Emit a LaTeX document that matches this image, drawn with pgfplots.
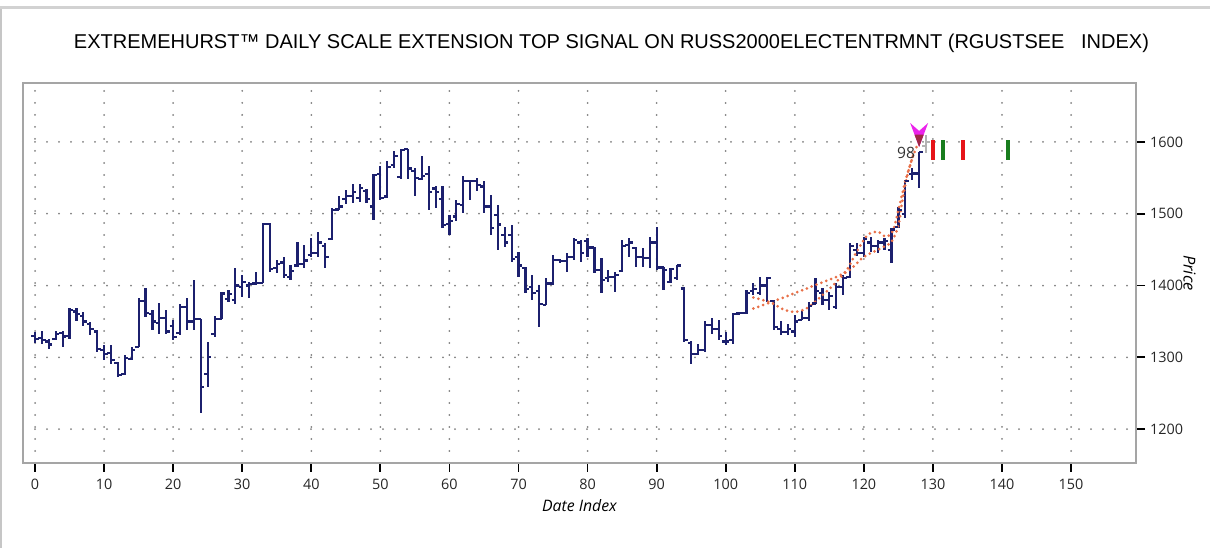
\documentclass[border=0pt]{standalone}
\usepackage{pgfplots}
\pgfplotsset{compat=1.18}
\usepackage{pgfplotstable}
\usepackage{fontspec}
\setmainfont{Liberation Sans}
\newfontfamily\uifont{Open Sans}

\definecolor{barblue}{RGB}{28,32,110}
\definecolor{fitorange}{RGB}{232,112,72}
\definecolor{sigred}{RGB}{230,20,25}
\definecolor{siggreen}{RGB}{25,125,30}
\definecolor{framegray}{RGB}{165,165,165}
\definecolor{arrowmag}{RGB}{235,35,235}
\definecolor{arrowdark}{RGB}{160,40,70}

% open / close ticks of the OHLC bars
\pgfdeclareplotmark{barleft}{\pgfpathmoveto{\pgfqpoint{-1.8pt}{0pt}}\pgfpathlineto{\pgfqpoint{0pt}{0pt}}\pgfusepathqstroke}
\pgfdeclareplotmark{barright}{\pgfpathmoveto{\pgfqpoint{0pt}{0pt}}\pgfpathlineto{\pgfqpoint{1.8pt}{0pt}}\pgfusepathqstroke}

% signal arrow, tip at the data point
\pgfdeclareplotmark{toparrow}{%
  \pgfsetfillcolor{arrowmag}%
  \pgfpathmoveto{\pgfqpoint{0pt}{0pt}}%
  \pgfpathlineto{\pgfqpoint{-4.5pt}{12pt}}%
  \pgfpathlineto{\pgfqpoint{0pt}{8pt}}%
  \pgfpathlineto{\pgfqpoint{4.5pt}{12pt}}%
  \pgfpathclose
  \pgfusepathqfill
  \pgfsetfillcolor{arrowdark}%
  \pgfpathmoveto{\pgfqpoint{0pt}{0pt}}%
  \pgfpathlineto{\pgfqpoint{-2.3pt}{6.1pt}}%
  \pgfpathlineto{\pgfqpoint{2.3pt}{6.1pt}}%
  \pgfpathclose
  \pgfusepathqfill}

\pgfplotstableread{
i o h l c
0 1330 1335 1320 1326
1 1327 1337 1319 1324
2 1322 1326 1311 1318
3 1326 1337 1324 1333
4 1334 1337 1315 1329
5 1330 1369 1326 1366
6 1364 1369 1350 1360
7 1358 1363 1344 1350
8 1347 1349 1331 1340
9 1336 1338 1308 1312
10 1310 1317 1296 1305
11 1306 1317 1291 1296
12 1292 1294 1273 1276
13 1277 1303 1275 1299
14 1298 1315 1296 1310
15 1315 1382 1315 1378
16 1378 1396 1356 1362
17 1360 1366 1338 1350
18 1348 1376 1333 1355
19 1355 1366 1333 1336
20 1344 1352 1324 1328
21 1334 1374 1331 1370
22 1370 1382 1338 1350
23 1350 1408 1338 1354
24 1354 1354 1222 1259
25 1277 1322 1259 1301
26 1333 1357 1329 1354
27 1354 1391 1354 1389
28 1381 1394 1377 1388
29 1380 1424 1375 1400
30 1398 1415 1384 1405
31 1400 1405 1382 1402
32 1403 1419 1401 1404
33 1404 1487 1403 1486
34 1486 1487 1419 1423
35 1424 1435 1417 1430
36 1432 1440 1410 1415
37 1412 1429 1408 1420
38 1428 1461 1426 1430
39 1430 1456 1424 1435
40 1442 1466 1440 1445
41 1445 1475 1440 1460
42 1455 1459 1424 1440
43 1465 1508 1463 1505
44 1506 1524 1505 1510
45 1520 1533 1514 1525
46 1525 1542 1515 1530
47 1522 1542 1517 1536
48 1532 1535 1515 1520
49 1510 1555 1491 1554
50 1555 1566 1519 1522
51 1524 1574 1522 1565
52 1568 1587 1563 1580
53 1551 1590 1549 1589
54 1590 1590 1549 1563
55 1560 1563 1524 1550
56 1548 1581 1547 1552
57 1555 1566 1505 1530
58 1535 1538 1508 1530
59 1520 1538 1480 1484
60 1486 1498 1470 1490
61 1496 1519 1490 1513
62 1512 1552 1501 1546
63 1546 1547 1519 1545
64 1545 1550 1531 1540
65 1538 1545 1501 1510
66 1510 1526 1470 1480
67 1498 1512 1450 1485
68 1470 1482 1454 1460
69 1470 1484 1433 1437
70 1440 1447 1412 1428
71 1424 1426 1389 1395
72 1398 1415 1380 1390
73 1392 1401 1343 1374
74 1373 1410 1373 1403
75 1403 1443 1401 1436
76 1436 1437 1432 1434
77 1434 1445 1419 1440
78 1440 1466 1436 1463
79 1460 1463 1433 1445
80 1462 1466 1440 1453
81 1453 1454 1417 1422
82 1422 1438 1389 1408
83 1410 1422 1405 1412
84 1412 1419 1391 1415
85 1420 1463 1419 1455
86 1456 1466 1440 1460
87 1452 1454 1426 1440
88 1440 1452 1426 1438
89 1438 1468 1424 1460
90 1460 1481 1422 1425
91 1425 1426 1394 1422
92 1405 1424 1403 1423
93 1410 1429 1408 1428
94 1396 1398 1322 1324
95 1320 1323 1291 1305
96 1305 1319 1303 1310
97 1310 1350 1308 1345
98 1345 1355 1333 1340
99 1340 1352 1324 1330
100 1322 1336 1317 1322
101 1324 1362 1319 1360
102 1361 1363 1360 1362
103 1362 1394 1361 1390
104 1392 1403 1387 1395
105 1390 1412 1387 1400
106 1400 1412 1377 1410
107 1378 1380 1338 1342
108 1340 1350 1331 1335
109 1335 1347 1331 1340
110 1336 1359 1329 1350
111 1352 1364 1352 1355
112 1355 1377 1350 1372
113 1375 1410 1375 1392
114 1390 1396 1373 1380
115 1380 1391 1366 1385
116 1370 1403 1368 1398
117 1398 1415 1387 1410
118 1412 1459 1410 1455
119 1450 1459 1441 1445
120 1445 1468 1440 1465
121 1460 1468 1447 1455
122 1455 1463 1445 1460
123 1460 1466 1449 1462
124 1450 1480 1431 1478
125 1482 1510 1480 1505
126 1500 1547 1494 1545
127 1555 1563 1547 1556
128 1556 1586 1536 1586
}\ohlc

\pgfplotstableread{
i o h l c
129 1594 1610 1585 1600
}\nextbar

\pgfplotstableread{
x y e
130 1589 14
134.4 1589 14
}\redsig

\pgfplotstableread{
x y e
131.4 1589 14
140.9 1589 14
}\greensig

\begin{document}
\begin{tikzpicture}
\begin{axis}[
  name=ax,
  width=556.5pt, height=190pt, scale only axis,
  xmin=-1.74, xmax=159.4, ymin=1153, ymax=1682,
  axis line style={draw=framegray, line width=1pt},
  xtick={0,10,...,150}, ytick={1200,1300,...,1600},
  xtick pos=bottom, ytick pos=right, yticklabel pos=right,
  tick align=outside, major tick length=4.5pt,
  tick style={black, line width=0.9pt},
  grid=major,
  major grid style={draw=gray, line width=1pt, dash pattern=on 0pt off 6pt, line cap=round},
  ticklabel style={font=\uifont\fontsize{7.2}{8}\selectfont, text=black!85},
  yticklabel style={xshift=-1pt},
  /pgf/number format/assume math mode=true,
  /pgf/number format/1000 sep={},
  xlabel={Date Index},
  xlabel style={font=\uifont\itshape\fontsize{7.9}{9}\selectfont, yshift=2pt},
  ylabel={Price},
  every axis y label/.style={at={(rel axis cs:1,0.5)}, xshift=26.8pt, rotate=-90, anchor=center,
    font=\uifont\itshape\fontsize{8.2}{9}\selectfont},
  clip=false,
]
% high-low bars
\addplot[draw=none, mark=none, forget plot, error bars/.cd, y dir=both, y explicit, error mark=none,
  error bar style={draw=barblue, line width=1.1pt}]
  table[x=i, y expr={(\thisrow{h}+\thisrow{l})/2}, y error expr={(\thisrow{h}-\thisrow{l})/2}] {\ohlc};
\addplot[only marks, mark=barleft, barblue, mark options={line width=1.1pt}] table[x=i, y=o] {\ohlc};
\addplot[only marks, mark=barright, barblue, mark options={line width=1.1pt}] table[x=i, y=c] {\ohlc};
% next (unfinished) bar in grey
\addplot[draw=none, mark=none, error bars/.cd, y dir=both, y explicit, error mark=none,
  error bar style={draw=gray!60, line width=1.1pt}]
  table[x=i, y expr={(\thisrow{h}+\thisrow{l})/2}, y error expr={(\thisrow{h}-\thisrow{l})/2}] {\nextbar};
\addplot[only marks, mark=barleft, gray!60, mark options={line width=1.1pt}] table[x=i, y=o] {\nextbar};
\addplot[only marks, mark=barright, gray!60, mark options={line width=1.1pt}] table[x=i, y=c] {\nextbar};
% fitted curves
\addplot[fitorange, smooth, line width=1.5pt, line cap=round, dash pattern=on 0pt off 2.6pt] coordinates {
  (104,1383.5) (106.6,1376) (108.5,1366) (110.3,1363.5) (112,1370) (113.7,1384)
  (115.5,1400) (117.5,1421.6) (119,1448) (120.5,1470) (122,1475) (123.2,1468)
  (124.2,1476) (125,1505) (126,1545) (127,1577) (127.8,1597)};
\addplot[fitorange, smooth, line width=1.5pt, line cap=round, dash pattern=on 0pt off 2.6pt] coordinates {
  (104,1368) (108,1382) (112,1397) (116,1412) (118,1422) (120,1440)
  (122.5,1452) (124,1461) (125,1484) (125.6,1520) (126.3,1554) (127.3,1587)};
% timing signals
\addplot[draw=none, mark=none, error bars/.cd, y dir=both, y explicit, error mark=none,
  error bar style={draw=sigred, line width=2pt}]
  table[x=x, y=y, y error=e] {\redsig};
\addplot[draw=none, mark=none, error bars/.cd, y dir=both, y explicit, error mark=none,
  error bar style={draw=siggreen, line width=2pt}]
  table[x=x, y=y, y error=e] {\greensig};
% top signal arrow
\addplot[only marks, mark=toparrow] coordinates {(128,1593)};
\node[anchor=east, font=\uifont\fontsize{7.8}{9}\selectfont, text=black!80, inner sep=0.5pt]
  at (axis cs:127.6,1585) {98};
\end{axis}
\node[font=\fontsize{10}{12}\selectfont] at ([xshift=16pt, yshift=20pt]ax.north)
  {EXTREMEHURST™ DAILY SCALE EXTENSION TOP SIGNAL ON RUSS2000ELECTENTRMNT (RGUSTSEE\ \ \ INDEX)};
\pgfresetboundingbox
\path[use as bounding box] ([shift={(-11.5pt,-42.5pt)}]ax.south west) rectangle ([shift={(37pt,41.5pt)}]ax.north east);
\fill[gray!35] ([shift={(-11.5pt,37pt)}]ax.north west) rectangle ([shift={(37pt,38.6pt)}]ax.north east);
\fill[gray!45] ([shift={(-11.5pt,-42.5pt)}]ax.south west) rectangle ([shift={(-10.6pt,37pt)}]ax.north west);
\end{tikzpicture}
\end{document}
